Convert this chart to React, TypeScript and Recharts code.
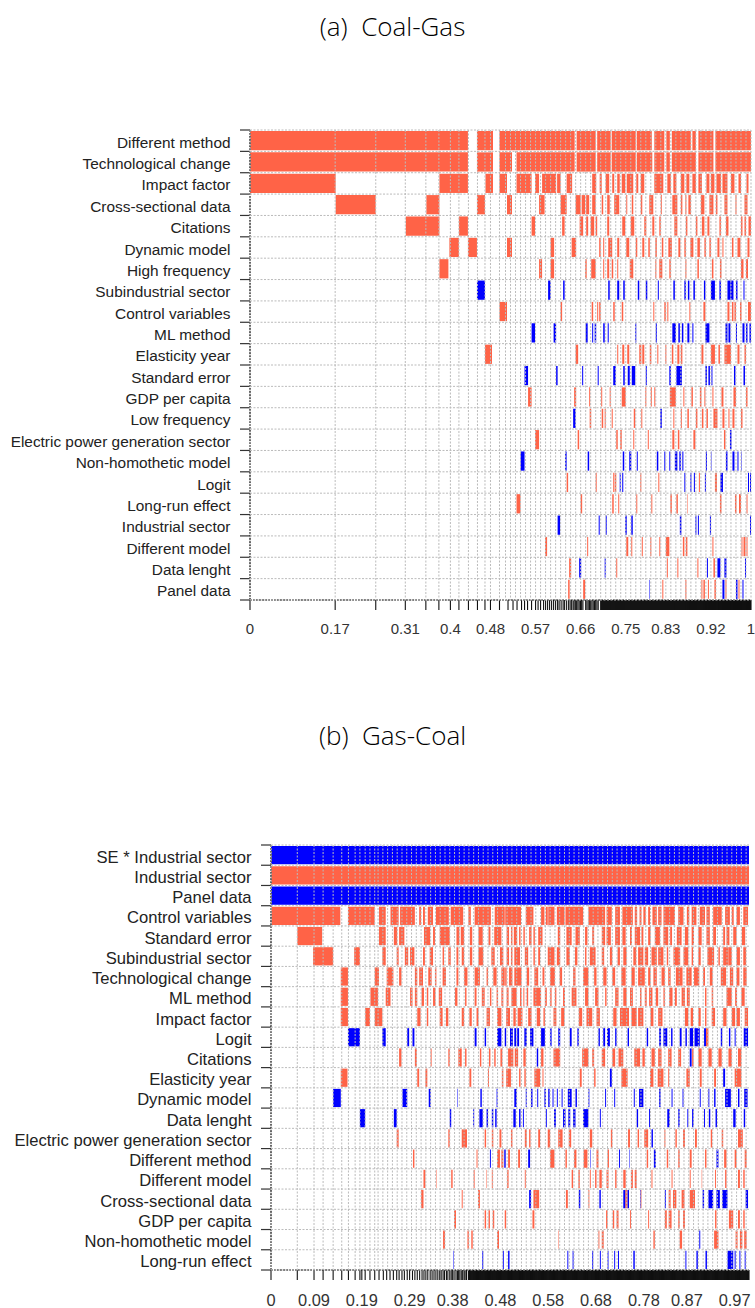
import React from 'react';
import { BarChart, Bar, Cell, XAxis, YAxis, CartesianGrid } from 'recharts';

const POSITIVE = '#FF6347';
const NEGATIVE = '#0000FF';

// ---- (a) Coal-Gas ---- interval values are cumulative model probability x 1000
const coalGasLabels = [
  'Different method', 'Technological change', 'Impact factor', 'Cross-sectional data', 'Citations',
  'Dynamic model', 'High frequency', 'Subindustrial sector', 'Control variables', 'ML method',
  'Elasticity year', 'Standard error', 'GDP per capita', 'Low frequency', 'Electric power generation sector',
  'Non-homothetic model', 'Logit', 'Long-run effect', 'Industrial sector', 'Different model',
  'Data lenght', 'Panel data',
];

const coalGasPositive: number[][] = [
  [0,435, 453,485, 498,648, 652,690, 693,720, 722,770, 772,802, 807,827, 831,838, 842,880, 883,890, 895,925, 929,1000],
  [0,435, 453,485, 498,523, 532,648, 652,690, 693,720, 722,770, 772,803, 807,827, 831,838, 842,890, 895,925, 929,1000],
  [0,171, 378,435, 470,485, 498,513, 532,562, 569,577, 583,611, 613,620, 632,643, 683,691, 698,702, 710,717, 723,727, 733,738, 742,749, 752,765, 771,775, 780,787, 807,825, 833,840, 845,851, 860,867, 871,877, 883,890, 895,902, 911,917, 920,927, 931,940, 943,953, 960,967, 975,980, 991,995],
  [171,251, 352,378, 453,469, 513,523, 577,588, 620,632, 650,660, 662,669, 671,677, 683,690, 702,705, 713,718, 727,737, 751,753, 762,765, 780,783, 797,805, 820,822, 843,853, 860,863, 869,871, 875,880, 900,907, 917,925, 930,933, 947,953, 969,971, 987,993],
  [311,378, 417,435, 562,569, 623,628, 658,665, 671,675, 680,687, 690,693, 713,717, 743,749, 760,767, 787,791, 803,807, 817,820, 847,853, 870,873, 890,893, 902,907, 913,917, 937,940, 950,955, 980,983, 987,990, 995,1000],
  [398,417, 435,453, 513,523, 600,607, 642,651, 697,700, 705,707, 715,723, 733,737, 751,757, 770,773, 783,787, 795,798, 809,812, 822,825, 835,842, 855,859, 867,870, 879,885, 893,898, 907,910, 917,920, 933,937, 943,945, 962,965, 973,979, 993,997],
  [378,396, 577,583, 600,607, 669,672, 681,690, 705,707, 713,717, 722,725, 733,735, 758,765, 809,811, 817,823, 837,840, 869,871, 893,896, 922,925, 938,941, 980,985, 990,994],
  [],
  [498,513, 620,623, 682,685, 693,695, 697,700, 725,728, 742,745, 805,807, 827,830, 833,835, 877,879, 905,909, 953,957, 962,965, 967,970, 978,981, 994,1000],
  [],
  [469,483, 650,655, 733,735, 743,747, 753,757, 777,781, 783,787, 798,801, 813,815, 829,831, 842,845, 853,857, 860,863, 901,905, 920,928, 935,938, 947,960, 973,977, 987,990],
  [],
  [555,562, 647,651, 677,679, 701,703, 718,720, 742,750, 789,791, 800,802, 807,809, 838,850, 865,867, 881,884, 898,901, 907,909, 923,925, 941,945, 965,970, 990,993],
  [678,681, 702,705, 708,710, 722,724, 766,769, 781,783, 845,847, 860,862, 873,876, 890,893, 902,905, 911,914, 925,933, 943,947, 955,957, 963,967, 980,983],
  [569,577, 654,657, 731,734, 739,742, 765,767, 794,796, 843,847, 854,857, 885,889, 946,949],
  [],
  [632,635, 690,692, 725,727, 728,731, 779,781, 815,817, 896,898, 928,932],
  [532,540, 660,663, 723,726, 735,737, 771,773, 801,803, 839,842, 851,854, 873,874, 938,941, 968,971, 976,980, 991,993],
  [],
  [589,593, 673,675, 751,755, 761,763, 782,784, 799,801, 817,819, 830,837, 864,867, 870,873, 923,925, 981,983, 985,989, 991,993],
  [637,641, 731,733, 832,834, 853,855, 893,895, 925,928],
  [635,638, 665,669, 823,825, 869,871, 901,903, 905,908, 914,916, 927,930, 949,951, 975,977],
];

const coalGasNegative: number[][] = [
  [], [], [], [], [], [], [],
  [453,469, 595,600, 625,628, 715,718, 733,737, 745,748, 774,777, 790,793, 814,816, 845,848, 867,870, 874,877, 885,888, 906,909, 920,928, 937,940, 953,959, 959,965, 970,973, 985,987],
  [],
  [562,569, 606,611, 670,674, 683,685, 688,691, 705,708, 714,716, 769,771, 810,812, 843,850, 855,858, 862,865, 873,877, 883,885, 909,917, 949,953, 955,959, 970,972, 983,987, 990,993, 997,1000],
  [],
  [548,555, 611,614, 663,665, 694,696, 725,730, 745,748, 754,758, 762,769, 790,792, 837,840, 851,862, 909,912, 915,918, 921,923, 966,969, 985,988],
  [],
  [645,650, 819,822],
  [958,961],
  [540,548, 629,632, 674,677, 744,747, 757,761, 772,774, 812,815, 827,829, 837,839, 848,853, 857,860, 863,865, 910,912, 920,921, 950,953, 963,967, 973,975, 981,982],
  [738,740, 743,745, 867,869, 879,881, 886,888, 908,910, 939,944, 994,996, 998,1000],
  [],
  [614,619, 696,698, 710,712, 749,752, 761,764, 858,861, 889,891, 894,896, 918,920, 998,1000],
  [],
  [657,661, 708,710, 912,914, 933,939, 947,951, 988,990],
  [797,798, 943,947, 970,973, 983,985],
];

const coalGasTickLabels = [0, 0.17, 0.31, 0.4, 0.48, 0.57, 0.66, 0.75, 0.83, 0.92, 1];
const coalGasSparseTicks = [
  0, 170, 251, 310, 351, 377, 400, 417, 436, 454, 469, 480, 498, 515, 525, 533, 542, 548, 554, 562, 570, 575, 580,
  586, 590, 594, 598, 602, 606, 610, 614, 617, 621, 625, 628, 632, 636, 639, 642, 645, 647, 650,
];

// ---- (b) Gas-Coal ----
const gasCoalLabels = [
  'SE * Industrial sector', 'Industrial sector', 'Panel data', 'Control variables', 'Standard error',
  'Subindustrial sector', 'Technological change', 'ML method', 'Impact factor', 'Logit', 'Citations',
  'Elasticity year', 'Dynamic model', 'Data lenght', 'Electric power generation sector', 'Different method',
  'Different model', 'Cross-sectional data', 'GDP per capita', 'Non-homothetic model', 'Long-run effect',
];

const gasCoalPositive: number[][] = [
  [],
  [0,1000],
  [],
  [1,145, 161,217, 226,240, 250,267, 270,301, 310,314, 318,322, 328,339, 345,372, 376,402, 413,418, 426,460, 468,489, 490,523, 533,549, 565,572, 575,579, 580,593, 598,614, 616,653, 664,699, 702,713, 720,730, 735,751, 751,757, 761,766, 771,775, 779,784, 789,793, 798,807, 810,817, 821,845, 852,863, 870,875, 880,890, 897,908, 911,918, 925,943, 950,960, 964,968, 974,981, 988,998],
  [55,107, 226,240, 257,264, 268,279, 320,333, 339,343, 353,374, 388,394, 397,404, 416,421, 434,443, 455,459, 467,482, 493,498, 502,505, 508,515, 519,522, 528,531, 540,545, 549,552, 559,568, 600,605, 618,629, 637,646, 657,662, 672,676, 692,699, 702,711, 720,730, 735,742, 751,755, 761,772, 775,779, 789,794, 803,814, 821,831, 835,839, 849,859, 866,873, 880,885, 894,901, 911,918, 925,931, 946,950, 953,959, 967,974, 985,992],
  [88,130, 174,186, 233,240, 263,267, 280,287, 291,300, 318,322, 332,339, 359,362, 371,376, 388,392, 399,404, 416,421, 434,444, 461,468, 479,486, 493,498, 502,505, 509,521, 531,538, 549,552, 559,563, 579,593, 598,605, 618,625, 636,641, 657,660, 667,679, 692,697, 709,714, 725,730, 737,744, 758,764, 768,779, 782,789, 796,807, 810,821, 828,831, 842,856, 863,873, 880,883, 894,899, 913,927, 936,939, 946,957, 957,964, 974,981, 988,994],
  [146,161, 217,226, 242,256, 268,273, 301,306, 310,318, 329,336, 343,346, 359,366, 388,392, 404,411, 426,437, 451,454, 465,472, 482,489, 490,493, 498,505, 509,524, 535,540, 551,559, 568,572, 584,594, 604,609, 632,637, 653,664, 676,681, 695,702, 714,720, 733,742, 754,761, 768,782, 789,794, 800,807, 817,824, 831,836, 847,861, 869,880, 885,896, 904,908, 918,924, 941,952, 960,967, 974,980, 988,995],
  [146,161, 208,224, 240,250, 291,296, 301,306, 315,320, 326,329, 339,344, 351,358, 385,390, 406,409, 426,430, 441,447, 458,461, 472,475, 482,486, 493,497, 503,514, 521,524, 528,530, 535,538, 549,565, 573,577, 584,587, 594,597, 611,615, 629,639, 657,664, 678,685, 699,702, 720,727, 737,744, 751,757, 772,775, 782,786, 791,798, 805,810, 821,824, 833,840, 845,849, 859,866, 870,876, 908,911, 922,925, 953,964, 971,975, 984,991],
  [146,161, 197,207, 217,233, 306,313, 326,329, 353,359, 366,371, 399,404, 415,420, 430,434, 451,458, 473,482, 492,500, 507,512, 516,526, 538,545, 556,563, 570,573, 591,597, 607,614, 644,651, 660,672, 681,688, 716,723, 730,749, 754,765, 768,779, 794,800, 810,819, 866,873, 878,883, 894,899, 908,911, 922,929, 946,953, 964,971, 974,981, 991,998],
  [910,915],
  [268,273, 301,305, 334,336, 371,374, 392,399, 406,409, 437,440, 456,459, 467,470, 480,484, 496,507, 510,517, 528,533, 565,570, 591,605, 651,664, 672,676, 692,699, 714,720, 727,737, 760,772, 777,782, 796,803, 810,817, 831,838, 852,858, 881,884, 894,901, 915,922, 936,943, 957,964, 977,984],
  [146,160, 306,310, 323,327, 415,419, 454,456, 483,486, 492,502, 519,522, 530,533, 551,563, 568,570, 646,650, 676,679, 733,746, 793,800, 809,821, 831,833, 869,876, 897,901, 927,931, 970,984],
  [],
  [],
  [263,267, 371,374, 399,410, 447,450, 462,465, 478,482, 502,505, 531,535, 540,543, 559,563, 579,584, 601,610, 623,628, 667,672, 711,714, 747,751, 767,770, 781,789, 823,825, 846,849, 862,866, 887,891, 920,923, 943,946, 977,987],
  [297,300, 430,432, 473,479, 482,486, 496,500, 517,521, 584,593, 616,619, 634,639, 654,662, 681,685, 704,707, 786,789, 828,831, 852,855, 876,880, 908,911, 948,953, 970,974, 991,995],
  [319,323, 346,347, 377,380, 424,426, 450,451, 462,464, 494,497, 531,533, 629,632, 643,646, 667,669, 678,681, 687,692, 702,706, 720,723, 737,742, 753,757, 761,765, 796,798, 838,840, 876,878, 901,902, 929,931, 950,953, 977,981, 988,991],
  [314,319, 399,401, 433,437, 549,561, 617,621, 664,666, 741,746, 773,775, 832,836, 841,848, 859,865, 876,887],
  [383,387, 447,450, 455,458, 464,467, 489,492, 547,551, 701,704, 715,718, 723,727, 751,753, 789,791, 824,828, 832,838, 852,855, 862,866, 929,932, 958,967, 977,981, 988,991],
  [360,364, 411,414, 419,422, 473,477, 601,602, 685,687, 692,696, 800,803, 855,860, 927,936, 972,976, 981,986, 990,995],
  [],
];

const gasCoalNegative: number[][] = [
  [0,1000],
  [],
  [0,1000],
  [], [], [], [], [], [],
  [161,186, 233,240, 285,289, 296,300, 426,430, 447,450, 473,482, 489,492, 500,506, 509,513, 515,519, 530,535, 542,549, 565,573, 584,587, 601,605, 625,629, 641,644, 685,688, 695,699, 703,709, 720,723, 746,749, 786,789, 812,816, 821,829, 837,840, 855,859, 867,870, 876,883, 886,897, 906,910, 941,944, 958,961, 970,972, 989,998],
  [556,559, 876,880],
  [709,713, 946,950],
  [130,146, 275,285, 330,334, 390,391, 438,441, 472,474, 509,514, 533,535, 544,547, 557,559, 572,575, 580,583, 589,591, 598,600, 608,610, 621,629, 637,640, 664,666, 699,701, 718,720, 759,761, 770,779, 812,815, 838,840, 861,863, 897,899, 915,917, 927,930, 950,962, 977,980, 990,997],
  [186,197, 257,263, 374,377, 423,425, 436,443, 451,454, 462,465, 469,472, 507,512, 519,522, 527,529, 575,577, 592,596, 611,616, 622,626, 632,637, 653,664, 688,690, 765,768, 791,793, 829,834, 852,855, 871,873, 881,884, 906,908, 916,919, 930,933, 967,972, 989,992],
  [796,799],
  [458,460, 488,491, 538,542, 668,669, 728,730, 749,750, 801,805, 932,936],
  [],
  [540,544, 644,647, 687,690, 737,741, 746,749, 772,773, 824,826, 903,906, 915,925, 932,939, 944,955, 993,998],
  [],
  [896,898],
  [381,382, 442,444, 485,487, 496,499, 620,622, 631,633, 672,674, 688,690, 704,706, 718,720, 726,728, 758,761, 867,869, 890,893, 909,912, 955,967, 970,972, 980,982, 991,993],
];

const gasCoalTickLabels = [0, 0.09, 0.19, 0.29, 0.38, 0.48, 0.58, 0.68, 0.78, 0.87, 0.97];
const gasCoalSparseTicks = [
  0, 55, 90, 109, 130, 148, 162, 176, 186, 197, 207, 217, 226, 235, 242, 249, 256, 263, 268, 274, 279, 285, 290,
  296, 301, 306, 311, 316, 320, 324, 328, 333, 337, 341, 345, 349, 353, 356, 360, 363, 367, 370, 374, 377, 380,
  383, 387, 390, 392, 395, 398, 401, 404, 406, 409,
];

const range = (from: number, to: number, step: number) => {
  const out: number[] = [];
  for (let v = from; v <= to; v += step) out.push(v / 1000);
  return out;
};

const buildCells = (labels: string[], pos: number[][], neg: number[][]) => {
  const cells: { row: number; span: [number, number]; fill: string }[] = [];
  labels.forEach((_, i) => {
    [[pos[i], POSITIVE], [neg[i], NEGATIVE]].forEach(([list, fill]: any) => {
      for (let k = 0; k + 1 < list.length; k += 2) {
        cells.push({ row: i + 0.5, span: [list[k] / 1000, list[k + 1] / 1000], fill });
      }
    });
  });
  return cells;
};

interface MapProps {
  labels: string[];
  pos: number[][];
  neg: number[][];
  tickLabels: number[];
  ticks: number[];
  gridX: number[];
  top: number;
  plotHeight: number;
  left: number;
  right: number;
  chartTop: number;
  labelSize: number;
  labelDy: number;
  tickSize: number;
  tickDy: number;
}

const InclusionMap = ({ labels, pos, neg, tickLabels, ticks, gridX, top, plotHeight, left, right, chartTop, labelSize, labelDy, tickSize, tickDy }: MapProps) => {
  const cells = buildCells(labels, pos, neg);
  const n = labels.length;
  const rowHeight = plotHeight / n;
  const rowTicks = labels.map((_, i) => i).concat(n);
  const xTicks = Array.from(new Set(ticks.concat(tickLabels))).sort((a, b) => a - b);
  const height = top + plotHeight + 38;

  const YTick = ({ x, y, payload }: any) =>
    payload.value < n ? (
      <text x={x - 7.5} y={y + rowHeight / 2 + labelDy} textAnchor="end" fontSize={labelSize} fontFamily="Liberation Sans" fill="#222">
        {labels[payload.value]}
      </text>
    ) : <g />;

  const XTick = ({ x, y, payload }: any) =>
    tickLabels.includes(payload.value) ? (
      <text x={x} y={y + tickDy} textAnchor="middle" fontSize={tickSize} fontFamily="Liberation Sans" fill="#333">
        {String(payload.value)}
      </text>
    ) : <g />;

  return (
    <div style={{ position: 'absolute', left: 0, top: chartTop }}>
      <BarChart
        layout="vertical"
        width={755}
        height={height}
        data={cells}
        margin={{ top, right: 755 - right, bottom: 0, left: 0 }}
        barSize={rowHeight}
      >
        <XAxis
          type="number"
          domain={[0, 1]}
          ticks={xTicks}
          interval={0}
          tick={<XTick />}
          tickSize={10}
          tickLine={{ stroke: '#111', strokeWidth: 1.1 }}
          axisLine={{ stroke: '#000', strokeDasharray: '2 1' }}
          height={38}
        />
        <YAxis
          type="number"
          dataKey="row"
          domain={[0, n]}
          ticks={rowTicks}
          interval={0}
          tick={<YTick />}
          tickSize={10}
          tickLine={{ stroke: '#333', strokeWidth: 1.2 }}
          axisLine={{ stroke: '#666', strokeDasharray: '2 1', strokeWidth: 2 }}
          width={left}
        />
        <Bar dataKey="span" isAnimationActive={false}>
          {cells.map((c, i) => <Cell key={i} fill={c.fill} />)}
        </Bar>
        <CartesianGrid
          zIndex={500}
          stroke="#bbb"
          strokeDasharray="2 1.5"
          verticalValues={gridX}
          horizontalValues={rowTicks}
        />
      </BarChart>
    </div>
  );
};

const titleStyle = (y: number): React.CSSProperties => ({
  position: 'absolute',
  left: 0,
  width: 785,
  top: y,
  textAlign: 'center',
  fontFamily: 'Open Sans',
  fontSize: 26,
  fontWeight: 300,
  color: '#000',
  whiteSpace: 'pre',
});

export default function App() {
  return (
    <div style={{ position: 'absolute', left: 0, top: 0, width: 755, height: 1308, background: '#fff', overflow: 'hidden' }}>
      <div style={titleStyle(8)}>{'(a)  Coal-Gas'}</div>
      <InclusionMap
        labels={coalGasLabels}
        pos={coalGasPositive}
        neg={coalGasNegative}
        tickLabels={coalGasTickLabels}
        ticks={coalGasSparseTicks.map(v => v / 1000).concat(range(652, 666, 2.5), range(670, 695, 2.5), range(700, 1000, 1))}
        gridX={coalGasSparseTicks.slice(0, 13).map(v => v / 1000).concat(range(510, 1000, 10))}
        top={130}
        plotHeight={470}
        left={250}
        right={751}
        chartTop={0}
        labelSize={15.4}
        labelDy={7}
        tickSize={15}
        tickDy={22}
      />
      <div style={titleStyle(717)}>{'(b)  Gas-Coal'}</div>
      <InclusionMap
        labels={gasCoalLabels}
        pos={gasCoalPositive}
        neg={gasCoalNegative}
        tickLabels={gasCoalTickLabels}
        ticks={gasCoalSparseTicks.map(v => v / 1000).concat(range(413, 1000, 1))}
        gridX={gasCoalSparseTicks.slice(0, 12).map(v => v / 1000).concat(range(224, 1000, 10))}
        top={145}
        plotHeight={425}
        left={271}
        right={749}
        chartTop={700}
        labelSize={16.6}
        labelDy={7.5}
        tickSize={16.4}
        tickDy={23.5}
      />
    </div>
  );
}
